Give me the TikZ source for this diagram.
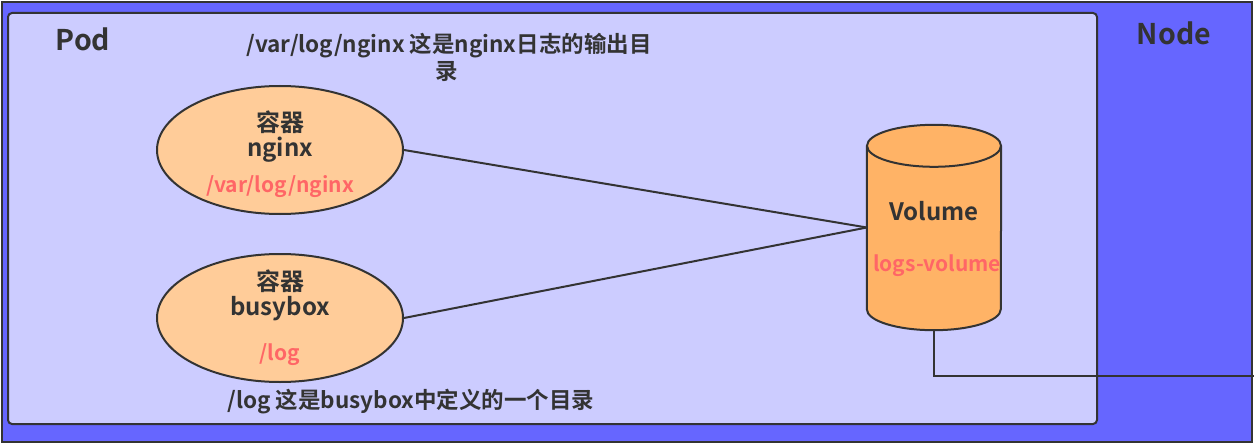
\documentclass[tikz,border=0pt]{standalone}
\usepackage{fontspec}
\setmainfont{Noto Sans CJK SC}[BoldFont={Noto Sans CJK SC Bold}]
\usetikzlibrary{shapes.geometric}
\definecolor{nodeblue}{HTML}{6666FF}
\definecolor{podfill}{HTML}{CCCCFF}
\definecolor{ctnfill}{HTML}{FFCC99}
\definecolor{volfill}{HTML}{FFB366}
\definecolor{lblred}{HTML}{FF6666}
\definecolor{dark}{HTML}{333333}
\begin{document}
\begin{tikzpicture}[x=1pt,y=-1pt,
  edge/.style={draw=dark,line width=2pt},
  ctn/.style={ellipse,draw=dark,line width=2pt,fill=ctnfill,minimum width=246pt,minimum height=128pt,inner sep=0pt},
  title/.style={font=\bfseries\fontsize{28.5}{32}\selectfont,text=dark,inner sep=0pt},
  note/.style={font=\bfseries\fontsize{22.5}{26}\selectfont,text=dark,inner sep=0pt},
  blk/.style={font=\bfseries\fontsize{24}{28}\selectfont,text=dark,inner sep=0pt},
  red/.style={font=\bfseries\fontsize{21}{25}\selectfont,text=lblred,inner sep=0pt}]
\useasboundingbox (0,0) rectangle (1254,444);
% Node
\node[draw=dark,line width=2pt,fill=nodeblue,minimum width=1250pt,minimum height=440pt,inner sep=0pt,anchor=north west] (node) at (1,1) {};
% Pod
\node[draw=dark,line width=2pt,fill=podfill,rounded corners=4pt,minimum width=1089pt,minimum height=411pt,inner sep=0pt,anchor=north west] (pod) at (7,12) {};
\node[title] (podlbl) at (83,39) {Pod};
\node[title] (nodelbl) at (1174,33) {Node};
% top note
\node[note] (note1) at (449,46) {/var/log/nginx 这是nginx日志的输出目};
\node[note] (note1b) at (447,72) {录};
% containers
\node[ctn] (ng) at (280,150) {};
\node[blk] (ng1) at (280,122) {容器};
\node[blk] (ng2) at (280,150) {nginx};
\node[red] (ng3) at (280,187) {/var/log/nginx};
\node[ctn] (bb) at (280,318) {};
\node[blk] (bb1) at (280,281) {容器};
\node[blk] (bb2) at (280,309) {busybox};
\node[red] (bb3) at (280,355) {/log};
\node[note] (note2) at (411,402) {/log 这是busybox中定义的一个目录};
% volume
\node[minimum width=134pt,minimum height=205pt,inner sep=0pt] (vol) at (934,227.5) {};
\fill[volfill] ([yshift=-21pt]vol.north west) -- ([yshift=21pt]vol.south west)
  arc[start angle=180,end angle=360,x radius=67pt,y radius=21pt]
  -- ([yshift=-21pt]vol.north east) arc[start angle=0,end angle=180,x radius=67pt,y radius=21pt] -- cycle;
\draw[dark,line width=2pt] ([yshift=-21pt]vol.north west) -- ([yshift=21pt]vol.south west)
  arc[start angle=180,end angle=360,x radius=67pt,y radius=21pt]
  -- ([yshift=-21pt]vol.north east);
\draw[dark,line width=2pt] ([yshift=-21pt]vol.north) ellipse[x radius=67pt,y radius=21pt];
\node[blk] (vollbl) at (934,211) {Volume};
\node[red] (volname) at (937,266) {logs-volume};
% connectors
\draw[edge] (ng.east) -- (vol.west);
\draw[edge] (bb.east) -- (vol.west);
\coordinate (exit) at (1254,376);
\draw[edge] (vol.south) |- (exit);
\end{tikzpicture}
\end{document}
